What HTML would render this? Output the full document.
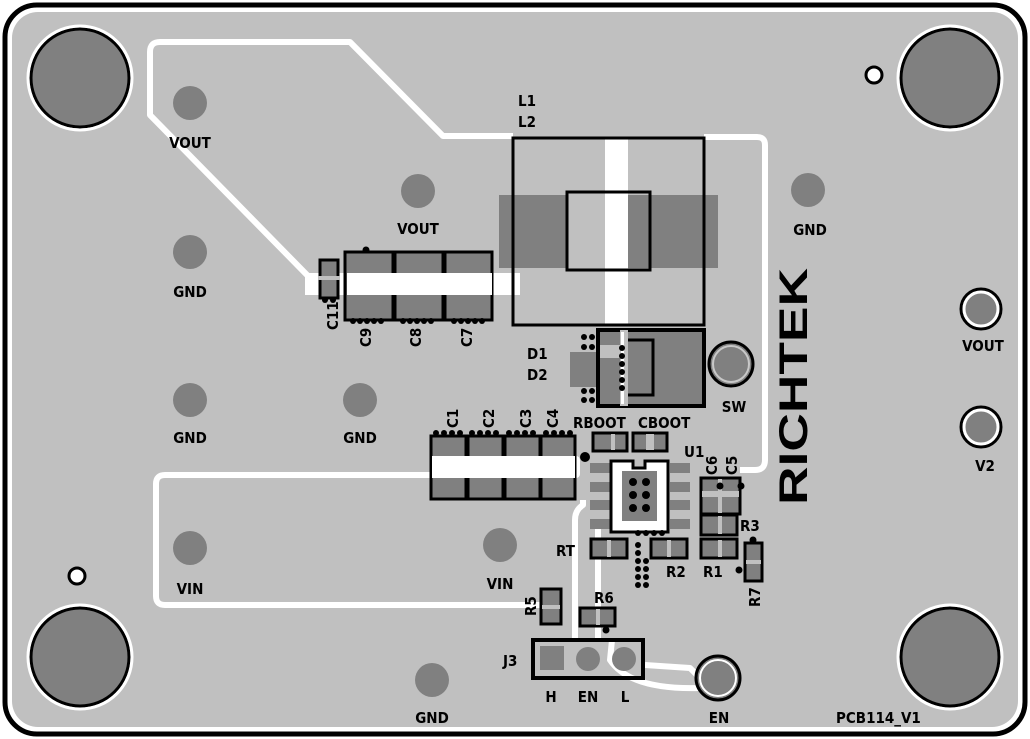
<!DOCTYPE html>
<html><head><meta charset="utf-8"><style>
html,body{margin:0;padding:0;background:#fff}
svg{display:block}
text{font-family:"DejaVu Sans Condensed","Liberation Sans",sans-serif;font-weight:bold;fill:#000}
.rk{font-family:"Liberation Sans",sans-serif}
</style></head><body>
<svg width="1030" height="739" viewBox="0 0 1030 739" xmlns="http://www.w3.org/2000/svg">
<rect x="0" y="0" width="1030" height="739" fill="#fff"/>
<rect x="5" y="5" width="1020" height="729" rx="32" fill="#fff" stroke="#000" stroke-width="5"/>
<rect x="12" y="12" width="1006" height="715" rx="26" fill="#c0c0c0"/>

<g fill="none" stroke="#fff" stroke-width="6" stroke-linejoin="round">
<path d="M513,136 L443,136 L350,42 L160,42 Q150,42 150,52 L150,115 L310,278"/>
<path d="M704,137 L757,137 Q765,137 765,145 L765,460 Q765,470 755,470 L740,470"/>
<path d="M430,475 L165,475 Q156,475 156,484 L156,596 Q156,605 165,605 L540,605"/>
<path d="M583,500 L583,505 Q575,510 575,520 L575,640"/>
<path d="M598,520 L598,640"/>
<path d="M645,665 L690,668 L700,678"/>
<path d="M612,640 L610,660 Q630,690 700,688"/>
</g>
<rect x="305" y="273" width="215" height="22" fill="#fff"/>
<rect x="430" y="456" width="150" height="22" rx="4" fill="#fff"/>

<g stroke="#000" stroke-width="3" fill="#808080">
<circle cx="80" cy="78" r="49"/><circle cx="950" cy="78" r="49"/>
<circle cx="80" cy="657" r="49"/><circle cx="950" cy="657" r="49"/>
</g>
<g fill="none" stroke="#fff" stroke-width="3">
<circle cx="80" cy="78" r="52"/><circle cx="950" cy="78" r="52"/>
<circle cx="80" cy="657" r="52"/><circle cx="950" cy="657" r="52"/>
</g>
<circle cx="874" cy="75" r="8" fill="#fff" stroke="#000" stroke-width="3"/>
<circle cx="77" cy="576" r="8" fill="#fff" stroke="#000" stroke-width="3"/>

<g fill="#808080">
<circle cx="190" cy="103" r="17"/><circle cx="418" cy="191" r="17"/>
<circle cx="190" cy="252" r="17"/><circle cx="190" cy="400" r="17"/>
<circle cx="360" cy="400" r="17"/><circle cx="808" cy="190" r="17"/>
<circle cx="190" cy="548" r="17"/><circle cx="500" cy="545" r="17"/>
<circle cx="432" cy="680" r="17"/>
</g>
<g font-size="15" text-anchor="middle">
<text x="190" y="148">VOUT</text><text x="418" y="234">VOUT</text>
<text x="190" y="297">GND</text><text x="190" y="443">GND</text>
<text x="360" y="443">GND</text><text x="810" y="235">GND</text>
<text x="190" y="594">VIN</text><text x="500" y="589">VIN</text>
<text x="432" y="723">GND</text>
</g>

<rect x="499" y="195" width="68" height="73" fill="#808080"/>
<rect x="628" y="195" width="90" height="73" fill="#808080"/>
<rect x="605" y="138" width="23" height="187" fill="#fff"/>
<rect x="513" y="138" width="191" height="187" fill="none" stroke="#000" stroke-width="3"/>
<rect x="567" y="192" width="83" height="78" fill="none" stroke="#000" stroke-width="3"/>
<text x="518" y="106" font-size="15">L1</text>
<text x="518" y="127" font-size="15">L2</text>

<rect x="570" y="352" width="30" height="35" fill="#808080"/>
<rect x="598" y="330" width="106" height="76" fill="#808080" stroke="#000" stroke-width="4"/>
<rect x="600" y="345" width="22" height="13" fill="#c0c0c0"/>
<rect x="625" y="340" width="28" height="55" fill="none" stroke="#000" stroke-width="3"/>
<rect x="620" y="330" width="8" height="76" fill="#c0c0c0"/>
<rect x="621" y="332" width="3" height="72" fill="#fff"/>
<g fill="#000">
<circle cx="584" cy="337" r="3"/><circle cx="592" cy="337" r="3"/><circle cx="584" cy="347" r="3"/><circle cx="592" cy="347" r="3"/>
<circle cx="584" cy="391" r="3"/><circle cx="592" cy="391" r="3"/><circle cx="584" cy="400" r="3"/><circle cx="592" cy="400" r="3"/>
<circle cx="622" cy="348" r="3"/><circle cx="622" cy="356" r="3"/><circle cx="622" cy="364" r="3"/><circle cx="622" cy="372" r="3"/><circle cx="622" cy="380" r="3"/><circle cx="622" cy="388" r="3"/>
</g>
<text x="527" y="359" font-size="15">D1</text>
<text x="527" y="380" font-size="15">D2</text>

<circle cx="731" cy="364" r="22" fill="#808080" stroke="#000" stroke-width="3"/>
<circle cx="731" cy="364" r="18" fill="none" stroke="#c8c8c8" stroke-width="2"/>
<text x="734" y="412" font-size="15" text-anchor="middle">SW</text>

<text class="rk" transform="translate(807,505) rotate(-90)" font-size="40" textLength="237" lengthAdjust="spacingAndGlyphs">RICHTEK</text>

<circle cx="981" cy="309" r="20" fill="#808080" stroke="#000" stroke-width="3"/>
<circle cx="981" cy="309" r="17" fill="none" stroke="#fff" stroke-width="3"/>
<circle cx="981" cy="427" r="20" fill="#808080" stroke="#000" stroke-width="3"/>
<circle cx="981" cy="427" r="17" fill="none" stroke="#fff" stroke-width="3"/>
<text x="983" y="351" font-size="15" text-anchor="middle">VOUT</text>
<text x="985" y="471" font-size="15" text-anchor="middle">V2</text>

<g fill="#808080" stroke="#000" stroke-width="3">
<rect x="345" y="252" width="48" height="68"/><rect x="395" y="252" width="48" height="68"/><rect x="445" y="252" width="47" height="68"/>
<rect x="320" y="260" width="18" height="38"/>
</g>
<rect x="347" y="273" width="145" height="22" fill="#fff"/>
<rect x="318" y="276" width="22" height="4" fill="#c0c0c0"/>
<circle cx="366" cy="250" r="3.5" fill="#000"/>
<g fill="#000">
<circle cx="353" cy="321" r="3"/><circle cx="360" cy="321" r="3"/><circle cx="367" cy="321" r="3"/><circle cx="374" cy="321" r="3"/><circle cx="381" cy="321" r="3"/>
<circle cx="403" cy="321" r="3"/><circle cx="410" cy="321" r="3"/><circle cx="417" cy="321" r="3"/><circle cx="424" cy="321" r="3"/><circle cx="431" cy="321" r="3"/>
<circle cx="454" cy="321" r="3"/><circle cx="461" cy="321" r="3"/><circle cx="468" cy="321" r="3"/><circle cx="475" cy="321" r="3"/><circle cx="482" cy="321" r="3"/>
<circle cx="325" cy="300" r="3"/><circle cx="333" cy="300" r="3"/>
</g>
<g font-size="15">
<text transform="translate(338,330) rotate(-90)">C11</text>
<text transform="translate(371,347) rotate(-90)">C9</text>
<text transform="translate(421,347) rotate(-90)">C8</text>
<text transform="translate(472,347) rotate(-90)">C7</text>
</g>

<g fill="#808080" stroke="#000" stroke-width="3">
<rect x="431" y="436" width="35" height="63"/><rect x="468" y="436" width="35" height="63"/>
<rect x="505" y="436" width="35" height="63"/><rect x="541" y="436" width="34" height="63"/>
</g>
<rect x="432" y="456" width="143" height="22" fill="#fff"/>
<g fill="#000">
<circle cx="436" cy="433" r="3"/><circle cx="444" cy="433" r="3"/><circle cx="452" cy="433" r="3"/><circle cx="460" cy="433" r="3"/>
<circle cx="472" cy="433" r="3"/><circle cx="480" cy="433" r="3"/><circle cx="488" cy="433" r="3"/><circle cx="496" cy="433" r="3"/>
<circle cx="509" cy="433" r="3"/><circle cx="517" cy="433" r="3"/><circle cx="525" cy="433" r="3"/><circle cx="533" cy="433" r="3"/>
<circle cx="546" cy="433" r="3"/><circle cx="554" cy="433" r="3"/><circle cx="562" cy="433" r="3"/><circle cx="570" cy="433" r="3"/>
<circle cx="585" cy="457" r="5"/>
</g>
<g font-size="15">
<text transform="translate(458,428) rotate(-90)">C1</text>
<text transform="translate(494,428) rotate(-90)">C2</text>
<text transform="translate(531,428) rotate(-90)">C3</text>
<text transform="translate(558,428) rotate(-90)">C4</text>
</g>

<text x="573" y="428" font-size="15">RBOOT</text>
<text x="638" y="428" font-size="15">CBOOT</text>
<g fill="#808080" stroke="#000" stroke-width="3">
<rect x="593" y="433" width="34" height="18"/><rect x="633" y="433" width="34" height="18"/>
</g>
<rect x="611" y="434" width="4" height="16" fill="#c0c0c0"/>
<rect x="646" y="434" width="8" height="16" fill="#c0c0c0"/>

<g fill="#808080">
<rect x="590" y="463" width="20" height="10"/><rect x="590" y="482" width="20" height="10"/>
<rect x="590" y="500" width="20" height="10"/><rect x="590" y="519" width="20" height="10"/>
<rect x="670" y="463" width="20" height="10"/><rect x="670" y="482" width="20" height="10"/>
<rect x="670" y="500" width="20" height="10"/><rect x="670" y="519" width="20" height="10"/>
</g>
<path d="M611,461 L633,461 L633,468 L645,468 L645,461 L668,461 L668,532 L611,532 Z" fill="#fff" stroke="#000" stroke-width="3"/>
<rect x="622" y="471" width="35" height="50" fill="#808080"/>
<g fill="#000">
<circle cx="633" cy="482" r="4"/><circle cx="646" cy="482" r="4"/>
<circle cx="633" cy="495" r="4"/><circle cx="646" cy="495" r="4"/>
<circle cx="633" cy="508" r="4"/><circle cx="646" cy="508" r="4"/>
<circle cx="638" cy="533" r="3"/><circle cx="646" cy="533" r="3"/><circle cx="654" cy="533" r="3"/><circle cx="662" cy="533" r="3"/>
<circle cx="638" cy="545" r="3"/><circle cx="638" cy="553" r="3"/><circle cx="638" cy="561" r="3"/><circle cx="638" cy="569" r="3"/><circle cx="638" cy="577" r="3"/><circle cx="638" cy="585" r="3"/>
<circle cx="646" cy="561" r="3"/><circle cx="646" cy="569" r="3"/><circle cx="646" cy="577" r="3"/><circle cx="646" cy="585" r="3"/>
</g>
<text x="684" y="457" font-size="15">U1</text>

<g font-size="15">
<text transform="translate(717,475) rotate(-90)">C6</text>
<text transform="translate(737,475) rotate(-90)">C5</text>
</g>
<g fill="#808080" stroke="#000" stroke-width="3">
<rect x="701" y="478" width="39" height="36"/>
<rect x="701" y="515" width="36" height="20"/>
<rect x="701" y="539" width="36" height="19"/>
<rect x="651" y="539" width="36" height="19"/>
<rect x="591" y="539" width="36" height="19"/>
<rect x="745" y="543" width="17" height="38"/>
</g>
<g fill="#c0c0c0">
<rect x="702" y="491" width="37" height="6"/><rect x="718" y="479" width="4" height="34"/>
<rect x="718" y="516" width="4" height="18"/><rect x="718" y="540" width="4" height="17"/>
<rect x="667" y="540" width="4" height="17"/><rect x="607" y="540" width="4" height="17"/>
<rect x="746" y="560" width="15" height="4"/>
</g>
<circle cx="720" cy="486" r="3.5" fill="#000"/><circle cx="741" cy="486" r="3.5" fill="#000"/>
<circle cx="753" cy="540" r="3.5" fill="#000"/><circle cx="739" cy="570" r="3.5" fill="#000"/>
<text x="740" y="531" font-size="15">R3</text>
<text x="703" y="577" font-size="15">R1</text>
<text x="666" y="577" font-size="15">R2</text>
<text x="556" y="556" font-size="15">RT</text>
<text transform="translate(760,607) rotate(-90)" font-size="15">R7</text>

<rect x="541" y="589" width="20" height="35" fill="#808080" stroke="#000" stroke-width="3"/>
<rect x="542" y="605" width="18" height="4" fill="#c0c0c0"/>
<text transform="translate(536,616) rotate(-90)" font-size="15">R5</text>
<rect x="580" y="608" width="35" height="18" fill="#808080" stroke="#000" stroke-width="3"/>
<rect x="596" y="609" width="4" height="16" fill="#c0c0c0"/>
<circle cx="606" cy="630" r="3.5" fill="#000"/>
<text x="594" y="603" font-size="15">R6</text>
<rect x="533" y="640" width="110" height="38" fill="none" stroke="#000" stroke-width="4"/>
<rect x="540" y="646" width="24" height="24" fill="#808080"/>
<circle cx="588" cy="659" r="12" fill="#808080"/>
<circle cx="624" cy="659" r="12" fill="#808080"/>
<text x="503" y="666" font-size="15">J3</text>
<text x="551" y="702" font-size="15" text-anchor="middle">H</text>
<text x="588" y="702" font-size="15" text-anchor="middle">EN</text>
<text x="625" y="702" font-size="15" text-anchor="middle">L</text>
<circle cx="718" cy="678" r="22" fill="#808080" stroke="#000" stroke-width="3"/>
<circle cx="718" cy="678" r="18" fill="none" stroke="#fff" stroke-width="2"/>
<text x="719" y="723" font-size="15" text-anchor="middle">EN</text>
<text x="836" y="723" font-size="15">PCB114_V1</text>
</svg>
</body></html>
